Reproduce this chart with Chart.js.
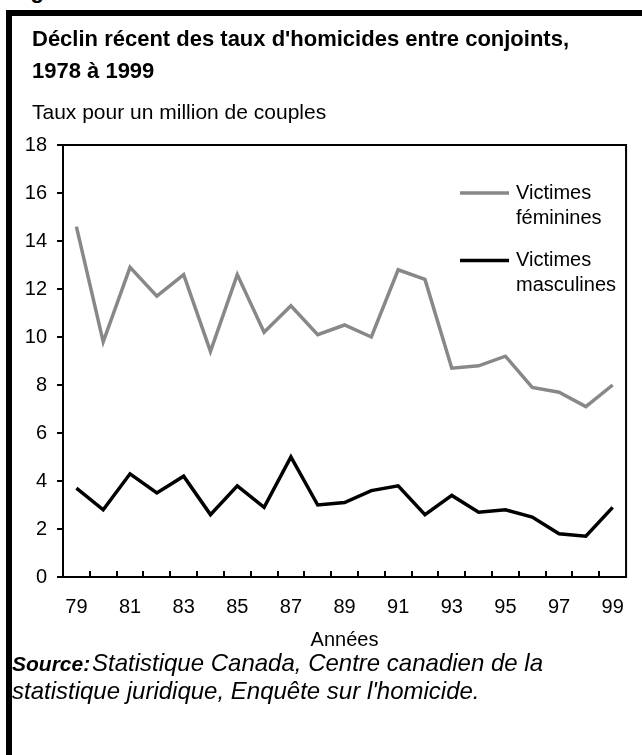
<!DOCTYPE html>
<html lang="fr">
<head>
<meta charset="utf-8">
<title>Déclin récent des taux d'homicides entre conjoints</title>
<script src="https://cdn.jsdelivr.net/npm/chart.js@4.4.1/dist/chart.umd.min.js"></script>
<style>
    html, body { margin: 0; padding: 0; background: #fff; }
    body {
        position: relative;
        width: 642px;
        height: 755px;
        overflow: hidden;
        font-family: 'Liberation Sans', Arial, Helvetica, sans-serif;
        color: #000;
    }
    #frame {
        position: absolute;
        left: 6px;
        top: 10px;
        width: 700px;
        height: 800px;
        border-left: 6px solid #000;
        border-top: 6px solid #000;
    }
    .figure-label {
        position: absolute;
        left: 11px;
        top: -21px;
        font-size: 22px;
        font-weight: bold;
        line-height: 24px;
    }
    #homicide-chart { position: absolute; left: 0; top: 0; }
    .chart-title {
        position: absolute;
        left: 32px;
        top: 23px;
        font-size: 22px;
        font-weight: bold;
        line-height: 32px;
        white-space: nowrap;
    }
    .chart-unit {
        position: absolute;
        left: 32px;
        top: 100px;
        font-size: 21px;
        line-height: 24px;
        white-space: nowrap;
    }
    .chart-source {
        position: absolute;
        left: 12px;
        top: 649px;
        font-size: 24px;
        line-height: 27px;
        font-style: italic;
        white-space: nowrap;
    }
    .chart-source b { display: inline-block; width: 80px; font-size: 21px; }
</style>
</head>
<body>
<div class="figure-label">Figure</div>
<div id="frame"></div>
<canvas id="homicide-chart" width="642" height="755"></canvas>
<div class="chart-title">Déclin récent des taux d'homicides entre conjoints,<br>1978 à 1999</div>
<div class="chart-unit">Taux pour un million de couples</div>
<div class="chart-source"><b>Source:</b>Statistique Canada, Centre canadien de la<br>statistique juridique, Enquête sur l'homicide.</div>

<script>
// Years shown on the x axis (two-digit labels, every other one printed)
const years = ['79', '80', '81', '82', '83', '84', '85', '86', '87', '88', '89',
               '90', '91', '92', '93', '94', '95', '96', '97', '98', '99'];

// Rates per million couples
const femaleVictims = [14.6, 9.8, 12.9, 11.7, 12.6, 9.4, 12.6, 10.2, 11.3, 10.1, 10.5,
                       10.0, 12.8, 12.4, 8.7, 8.8, 9.2, 7.9, 7.7, 7.1, 8.0];
const maleVictims = [3.7, 2.8, 4.3, 3.5, 4.2, 2.6, 3.8, 2.9, 5.0, 3.0, 3.1,
                     3.6, 3.8, 2.6, 3.4, 2.7, 2.8, 2.5, 1.8, 1.7, 2.9];

const seriesNames = [['Victimes', 'féminines'], ['Victimes', 'masculines']];
const yTicks = [0, 2, 4, 6, 8, 10, 12, 14, 16, 18];
const xAxisTitle = 'Années';

const FONT = "'Liberation Sans', Arial, Helvetica, sans-serif";

// Box around the plot + small ticks pointing up between the years
const boxAndTicks = {
    id: 'boxAndTicks',
    afterDatasetsDraw(chart, args, opts) {
        const { ctx, chartArea: a, scales: { x } } = chart;
        ctx.save();
        ctx.strokeStyle = '#000';
        ctx.lineWidth = 2;
        ctx.strokeRect(a.left, a.top, a.right - a.left, a.bottom - a.top);
        ctx.beginPath();
        for (let i = 0; i < years.length - 1; i++) {
            const px = Math.round((x.getPixelForValue(i) + x.getPixelForValue(i + 1)) / 2);
            ctx.moveTo(px, a.bottom);
            ctx.lineTo(px, a.bottom - opts.tickLength);
        }
        ctx.stroke();
        ctx.restore();
    }
};

// Legend drawn inside the plot, line on the left and two-line label
const insideLegend = {
    id: 'insideLegend',
    afterDraw(chart, args, opts) {
        const ctx = chart.ctx;
        ctx.save();
        ctx.font = opts.font;
        ctx.textBaseline = 'middle';
        ctx.textAlign = 'left';
        ctx.fillStyle = '#000';
        chart.data.datasets.forEach((ds, i) => {
            const y = opts.top + i * opts.rowGap;
            ctx.strokeStyle = ds.borderColor;
            ctx.lineWidth = ds.borderWidth;
            ctx.beginPath();
            ctx.moveTo(opts.left, y);
            ctx.lineTo(opts.left + opts.lineLength, y);
            ctx.stroke();
            seriesNames[i].forEach((t, j) => {
                ctx.fillText(t, opts.left + opts.lineLength + opts.gap, y + j * opts.lineHeight);
            });
        });
        ctx.restore();
    }
};

new Chart(document.getElementById('homicide-chart'), {
    type: 'line',
    data: {
        labels: years,
        datasets: [
            {
                label: seriesNames[0].join(' '),
                data: femaleVictims,
                borderColor: '#888888',
                borderWidth: 3.5,
                borderJoinStyle: 'miter',
                pointRadius: 0,
                tension: 0,
                fill: false
            },
            {
                label: seriesNames[1].join(' '),
                data: maleVictims,
                borderColor: '#000000',
                borderWidth: 3.5,
                borderJoinStyle: 'miter',
                pointRadius: 0,
                tension: 0,
                fill: false
            }
        ]
    },
    options: {
        responsive: false,
        animation: false,
        devicePixelRatio: 1,
        layout: {
            autoPadding: false,
            padding: { top: 145, left: 0, right: 9, bottom: 103 }
        },
        plugins: {
            legend: { display: false },
            tooltip: { enabled: false },
            title: { display: false },
            boxAndTicks: { tickLength: 6 },
            insideLegend: {
                font: `20px ${FONT}`,
                left: 460,
                top: 193,
                rowGap: 67.5,
                lineLength: 49,
                gap: 7,
                lineHeight: 25
            }
        },
        scales: {
            x: {
                type: 'category',
                offset: true,
                grid: { display: false, drawTicks: false },
                border: { display: false },
                afterFit: (scale) => { scale.height = 75; },
                ticks: {
                    autoSkip: false,
                    maxRotation: 0,
                    padding: 18,
                    color: '#000',
                    font: { family: FONT, size: 20 },
                    callback: (val, idx) => (idx % 2 === 0 ? years[idx] : '')
                },
                title: {
                    display: true,
                    text: xAxisTitle,
                    color: '#000',
                    font: { family: FONT, size: 20 },
                    padding: { top: 0, bottom: 0 }
                }
            },
            y: {
                min: yTicks[0],
                max: yTicks[yTicks.length - 1],
                afterFit: (scale) => { scale.width = 63; },
                afterBuildTicks: (scale) => {
                    scale.ticks = yTicks.map(v => ({ value: v }));
                },
                grid: {
                    drawOnChartArea: false,
                    drawTicks: true,
                    tickLength: 6,
                    color: '#000',
                    lineWidth: 2
                },
                border: { display: false },
                ticks: {
                    padding: 10,
                    color: '#000',
                    font: { family: FONT, size: 20 }
                }
            }
        }
    },
    plugins: [boxAndTicks, insideLegend]
});
</script>
</body>
</html>
